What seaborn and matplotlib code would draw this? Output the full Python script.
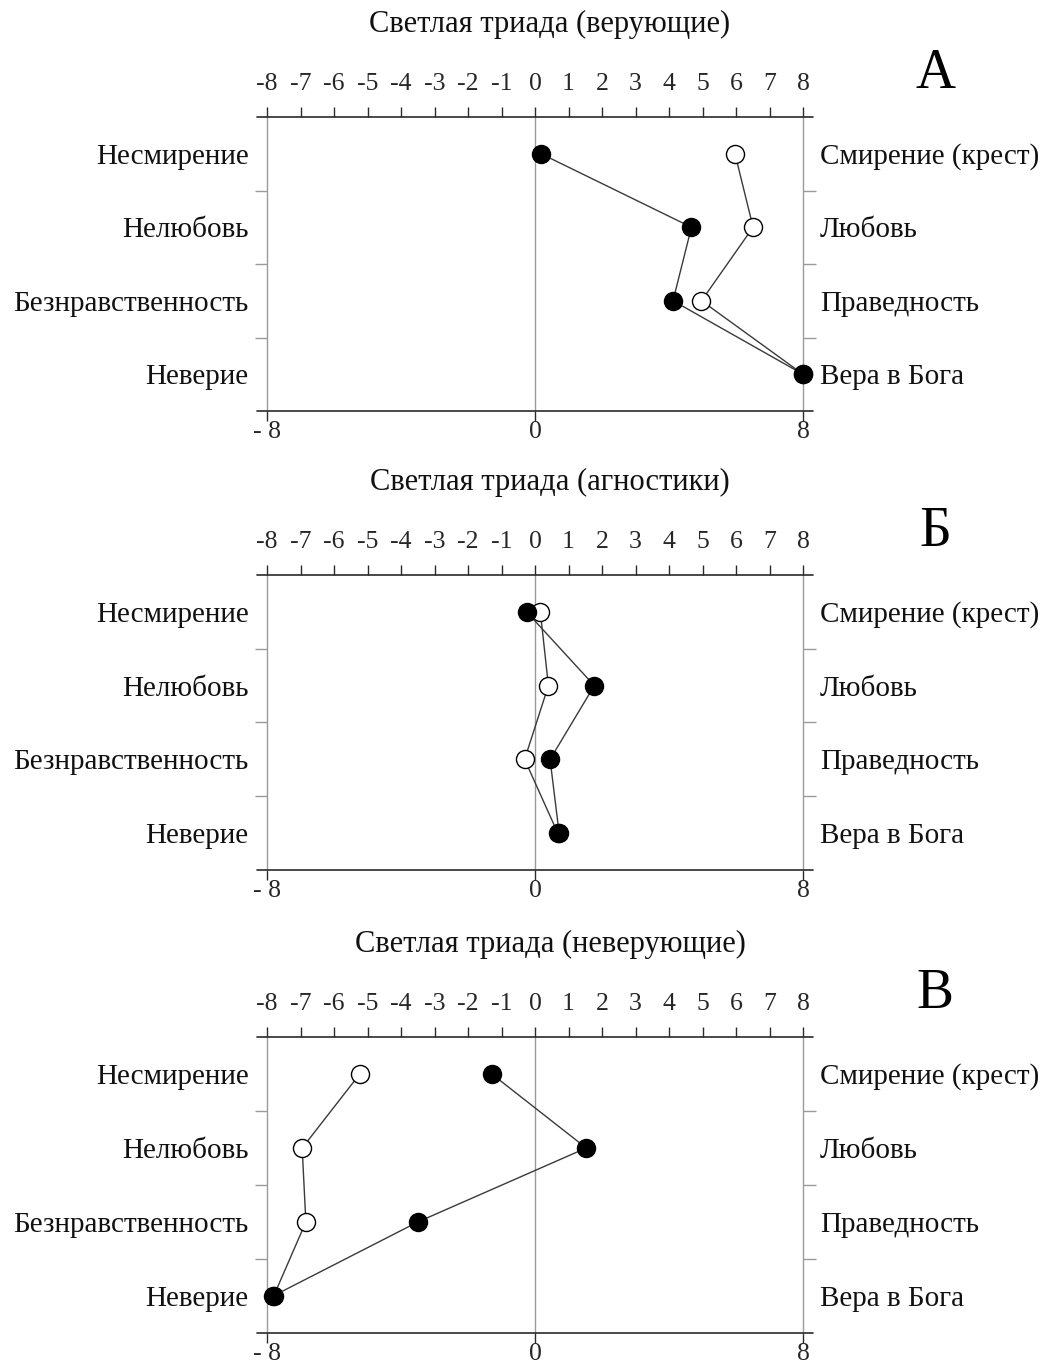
import matplotlib
matplotlib.use("Agg")
import matplotlib.pyplot as plt
import seaborn as sns
import pandas as pd

# Scale poles: left (negative) and right (positive) ends of each row
left_labels = ["Несмирение", "Нелюбовь", "Безнравственность", "Неверие"]
right_labels = ["Смирение (крест)", "Любовь", "Праведность", "Вера в Бога"]

panel_titles = ["Светлая триада (верующие)",
                "Светлая триада (агностики)",
                "Светлая триада (неверующие)"]
panel_letters = ["А", "Б", "В"]

# Profile values per row (top to bottom), filled and open markers
believers_filled = [0.18, 4.67, 4.12, 8.0]
believers_open = [5.97, 6.51, 4.97, 8.0]

agnostics_filled = [-0.25, 1.77, 0.45, 0.72]
agnostics_open = [0.16, 0.40, -0.31, 0.68]

nonbelievers_filled = [-1.29, 1.53, -3.50, -7.82]
nonbelievers_open = [-5.23, -6.95, -6.84, -7.80]

top_ticks = list(range(-8, 9))
bottom_ticks = [-8, 0, 8]
bottom_ticklabels = ["- 8", "0", "8"]

panels = [
    (believers_filled, believers_open),
    (agnostics_filled, agnostics_open),
    (nonbelievers_filled, nonbelievers_open),
]

sns.set_theme(style="white")
plt.rcParams["font.family"] = ["Liberation Serif", "DejaVu Serif"]

FIG_W, FIG_H = 1045, 1365
fig = plt.figure(figsize=(FIG_W / 100, FIG_H / 100), dpi=100)

# Axes boxes in pixel coordinates: (top, bottom)
boxes = [(117, 411), (575, 870), (1037, 1333)]
x_left, x_right = 267, 803

label_fs = 21
title_fs = 22
tick_fs = 18.5
line_col = "#3a3a3a"
grey = "#9a9a9a"
dark = "#2a2a2a"

rows = [0.5, 1.5, 2.5, 3.5]

for i, ((filled, opened), (top, bot)) in enumerate(zip(panels, boxes)):
    ax = fig.add_axes([x_left / FIG_W, 1 - bot / FIG_H,
                       (x_right - x_left) / FIG_W, (bot - top) / FIG_H])
    ax.set_xlim(-8, 8)
    ax.set_ylim(4, 0)

    ax.axvline(0, color=grey, lw=1.0, zorder=1)

    df_open = pd.DataFrame({"x": opened, "y": rows})
    df_fill = pd.DataFrame({"x": filled, "y": rows})
    sns.lineplot(data=df_open, x="x", y="y", sort=False, estimator=None,
                 orient="y", ax=ax, color=line_col, lw=1.0, marker="o",
                 markersize=13, markerfacecolor="white",
                 markeredgecolor="black", markeredgewidth=1.0,
                 clip_on=False, zorder=3)
    sns.lineplot(data=df_fill, x="x", y="y", sort=False, estimator=None,
                 orient="y", ax=ax, color=line_col, lw=1.0, marker="o",
                 markersize=13, markerfacecolor="black",
                 markeredgecolor="black", markeredgewidth=1.0,
                 clip_on=False, zorder=4)

    # Spines: grey sides, dark top/bottom extended over the tick length
    for side in ("left", "right"):
        ax.spines[side].set_color(grey)
        ax.spines[side].set_linewidth(1.0)
    for side in ("top", "bottom"):
        ax.spines[side].set_visible(False)
    ext = 0.3
    for yy in (0, 4):
        ax.plot([-8 - ext, 8 + ext], [yy, yy], color=dark, lw=1.2,
                clip_on=False, zorder=5)

    # Row boundary ticks on both sides
    ax.set_yticks([1, 2, 3])
    ax.set_yticklabels([])
    ax.tick_params(axis="y", which="both", left=True, right=True,
                   direction="out", length=9, width=1.0, color=grey)

    # Bottom axis ticks
    ax.set_xticks(bottom_ticks)
    ax.set_xticklabels(bottom_ticklabels, fontsize=tick_fs)
    ax.tick_params(axis="x", bottom=True, direction="out", length=7,
                   width=1.0, color=dark, pad=0)

    # Top axis with the full scale
    sec = ax.secondary_xaxis("top")
    sec.set_xticks(top_ticks)
    sec.set_xticklabels([str(t) for t in top_ticks], fontsize=tick_fs)
    sec.tick_params(axis="x", direction="out", length=7, width=1.0,
                    color=dark, pad=9)
    sec.spines["top"].set_visible(False)

    for y, (lt, rt) in enumerate(zip(left_labels, right_labels)):
        ax.text(-8 - 0.55, rows[y] + 0.04, lt, ha="right", va="center",
                fontsize=label_fs, color="#111111")
        ax.text(8 + 0.5, rows[y] + 0.04, rt, ha="left", va="center",
                fontsize=label_fs, color="#111111")

    ax.set_xlabel("")
    ax.set_ylabel("")

    fig.text(550 / FIG_W, 1 - (top - 93) / FIG_H, panel_titles[i],
             ha="center", va="center", fontsize=title_fs, color="#111111")
    fig.text(935 / FIG_W, 1 - (top - 43) / FIG_H, panel_letters[i],
             ha="center", va="center", fontsize=40, color="black")

fig.savefig("out.png", dpi=100, facecolor="white")
